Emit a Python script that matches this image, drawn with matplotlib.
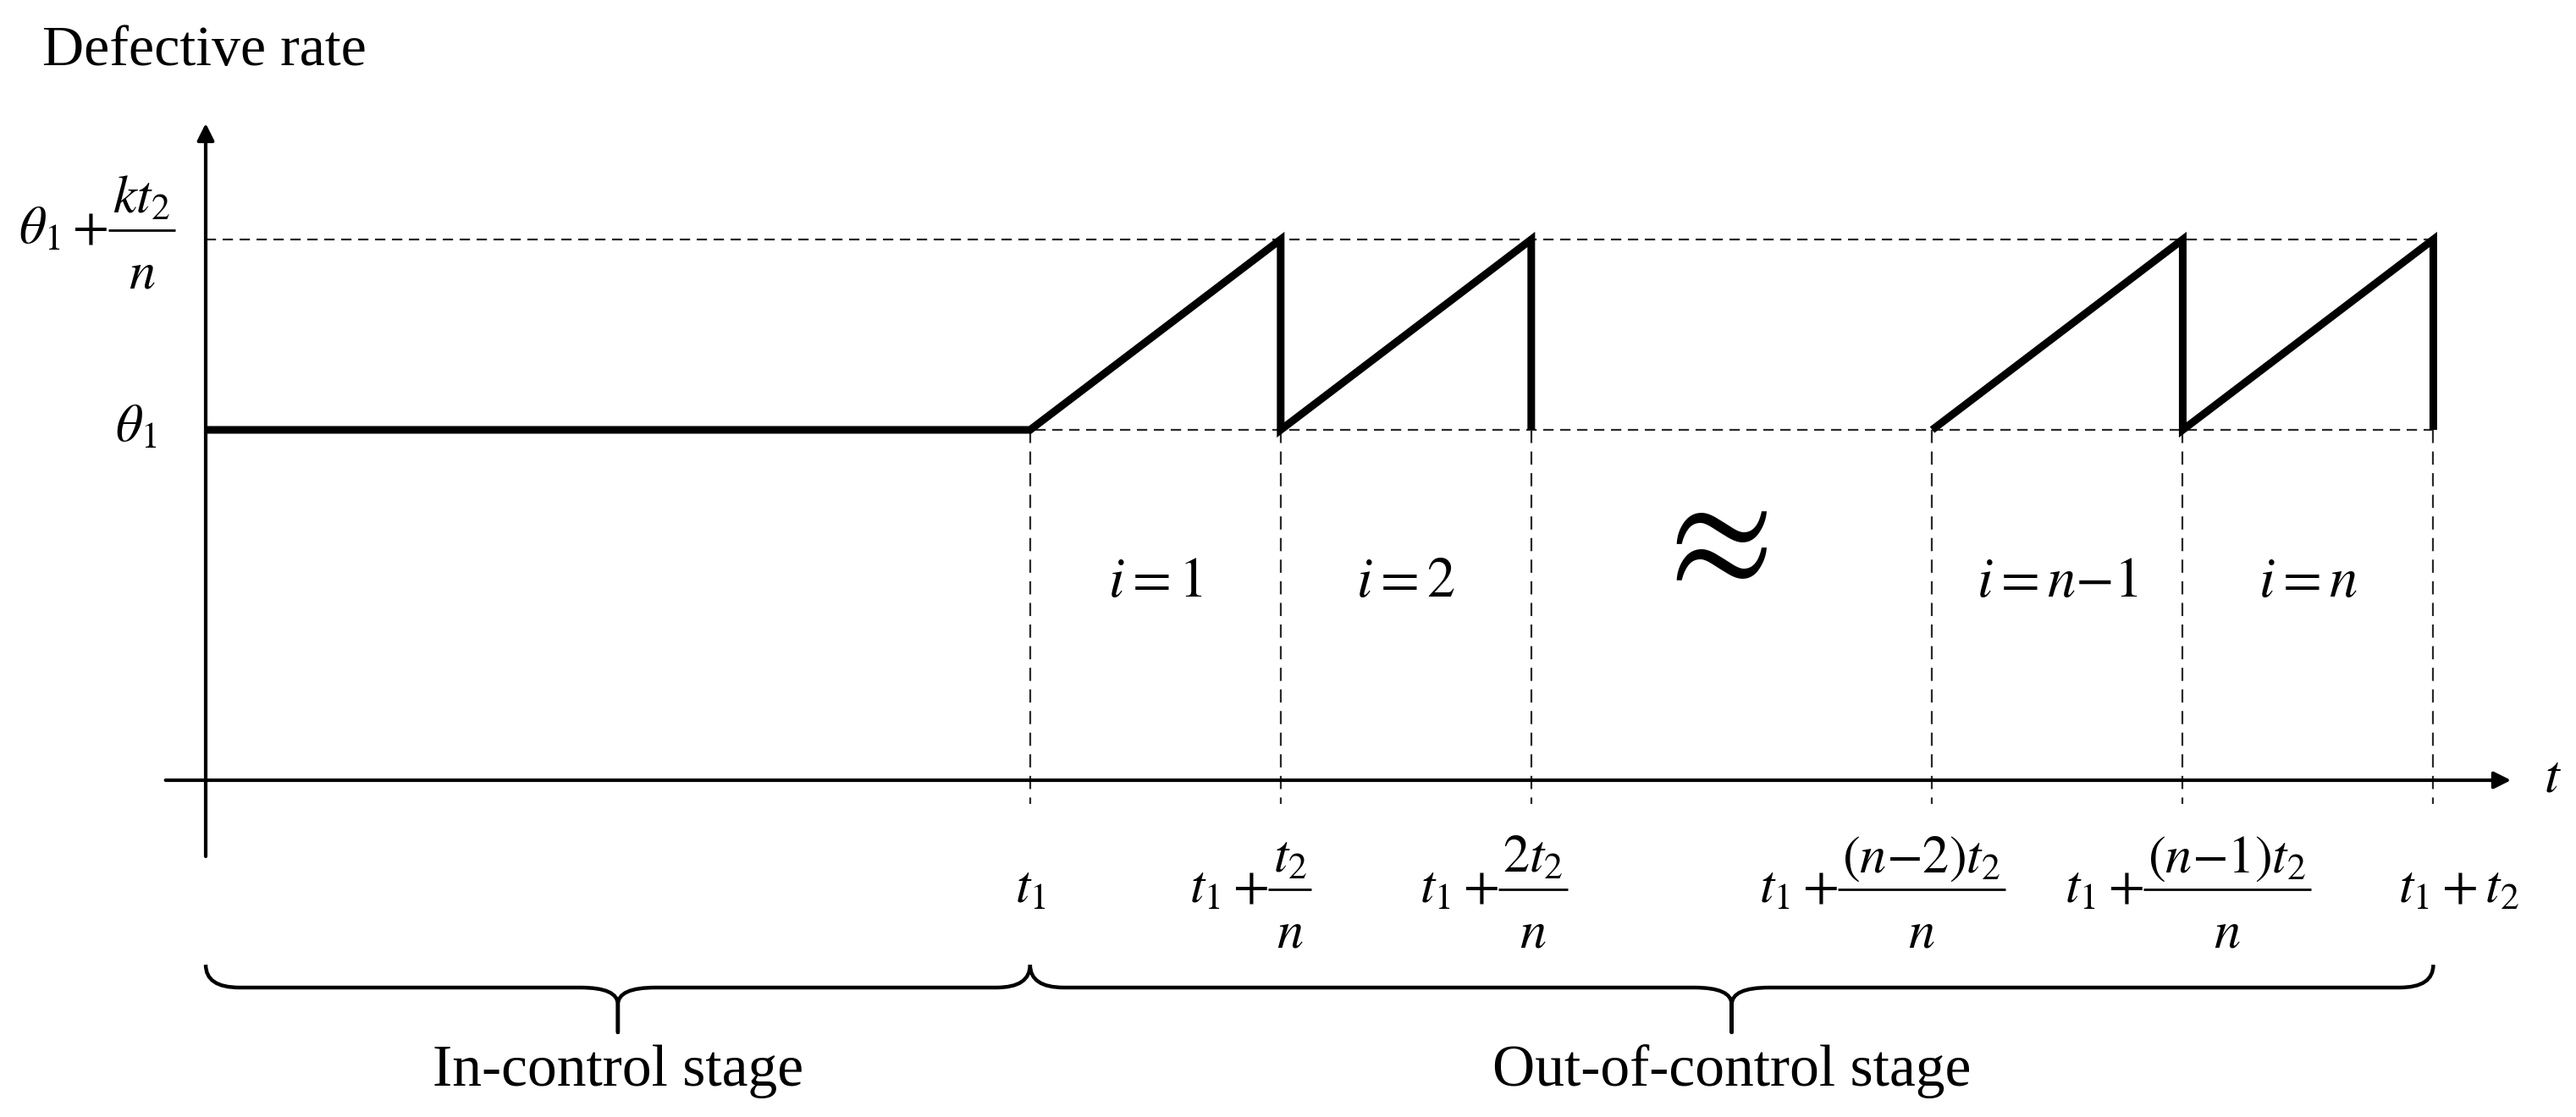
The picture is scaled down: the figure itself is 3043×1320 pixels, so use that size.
import matplotlib
matplotlib.use("Agg")
import matplotlib.pyplot as plt
from matplotlib.path import Path
from matplotlib.patches import PathPatch

plt.rcParams["font.family"] = ["Liberation Serif", "DejaVu Serif"]
plt.rcParams["mathtext.fontset"] = "stix"

# Schematic values: one inspection interval t2/n is one unit on the time axis
t1 = 3.29
theta1 = 1.84
rise = 1.0                              # k * t2 / n
cycle_starts = [0.0, 1.0, 3.6, 4.6]     # drawn intervals, offset from t1
tick_offsets = [0.0, 1.0, 2.0, 3.6, 4.6, 5.6]
# plain label, or (lead, numerator, denominator) for a fraction
tick_labels = [
    r"$t_1$",
    (r"$t_1+$", r"$t_2$", r"$n$"),
    (r"$t_1+$", r"$2t_2$", r"$n$"),
    (r"$t_1+$", r"$(n{-}2)t_2$", r"$n$"),
    (r"$t_1+$", r"$(n{-}1)t_2$", r"$n$"),
    r"$t_1+t_2$",
]
interval_labels = [r"$i=1$", r"$i=2$", r"$i=n{-}1$", r"$i=n$"]
level_labels = [r"$\theta_1$", (r"$\theta_1+$", r"$kt_2$", r"$n$")]
stage_labels = ["In-control stage", "Out-of-control stage"]

# Layout tweaks (label nudges in data units)
tick_nudge = [0.0, -0.12, -0.15, -0.20, 0.02, 0.10]
level_label_x = [-0.196, -0.122]
level_label_dy = [-0.062, -0.022]

# Figure: a bare axes over the full canvas
PX_X, PX_Y = 296, 225          # pixels per data unit
fig = plt.figure(figsize=(30.43, 13.2), dpi=100)
ax = fig.add_axes([0, 0, 1, 1])
ax.set_xlim(-243 / PX_X, (3043 - 243) / PX_X)
ax.set_ylim(-(1320 - 922) / PX_Y, 922 / PX_Y)
ax.axis("off")

renderer = fig.canvas.get_renderer()
to_data = ax.transData.inverted()


def data_width(artist):
    bb = artist.get_window_extent(renderer)
    return to_data.transform((bb.x1, 0))[0] - to_data.transform((bb.x0, 0))[0]


def put_label(x, y, label, size, ha="center"):
    """Plain mathtext label, or a display-style fraction built by hand."""
    if isinstance(label, str):
        return ax.text(x, y, label, ha=ha, va="baseline", fontsize=size)
    lead, num, den = label
    em_y = size / 72 * fig.dpi / PX_Y
    em_x = size / 72 * fig.dpi / PX_X
    lead_t = ax.text(0, y, lead, ha="left", va="baseline", fontsize=size)
    num_t = ax.text(0, y + 0.58 * em_y, num, ha="center", va="baseline", fontsize=size)
    den_t = ax.text(0, y - 0.84 * em_y, den, ha="center", va="baseline", fontsize=size)
    lead_w = data_width(lead_t)
    bar_w = max(data_width(num_t), data_width(den_t)) + 0.18 * em_x
    total = lead_w + bar_w
    x0 = x - total / 2 if ha == "center" else x - total
    lead_t.set_x(x0)
    xc = x0 + lead_w + bar_w / 2
    num_t.set_x(xc)
    den_t.set_x(xc)
    ax.plot([xc - bar_w / 2, xc + bar_w / 2], [y + 0.25 * em_y] * 2,
            color="black", lw=2.0, solid_capstyle="butt")


t_end = t1 + tick_offsets[-1]
ticks = [t1 + o for o in tick_offsets]
top = theta1 + rise

# Axes with arrows
arrow = dict(arrowstyle="-|>,head_length=0.6,head_width=0.3", lw=3,
             color="black", shrinkA=0, shrinkB=0, mutation_scale=20)
ax.annotate("", xy=(0, 3.45), xytext=(0, -0.4), arrowprops=arrow)
ax.annotate("", xy=(9.2, 0), xytext=(-0.16, 0), arrowprops=arrow)

# Dashed guide lines
dash_kw = dict(color="#2a2a2a", lw=1.6)
ax.plot([0, t_end], [top, top], dashes=(5.5, 3.5), **dash_kw)
ax.plot([0, t_end], [theta1, theta1], dashes=(5.5, 3.5), **dash_kw)
for x in ticks:
    ax.plot([x, x], [theta1, -0.125], dashes=(7, 4.5), **dash_kw)

# Defective-rate path (flat, then sawtooth)
xs, ys = [0.0, t1], [theta1, theta1]
segments = []
prev_end = 0.0
for s in cycle_starts:
    if s != prev_end:
        segments.append((xs, ys))
        xs, ys = [t1 + s], [theta1]
    xs += [t1 + s + 1, t1 + s + 1]
    ys += [top, theta1]
    prev_end = s + 1
segments.append((xs, ys))
for xs, ys in segments:
    ax.plot(xs, ys, color="black", lw=6.5, solid_joinstyle="miter",
            solid_capstyle="butt")

# Labels on the axes
for x, lab, dx in zip(ticks, tick_labels, tick_nudge):
    put_label(x + dx, -0.644, lab, 45)
for y, lab, x, dy in zip([theta1, top], level_labels, level_label_x, level_label_dy):
    put_label(x, y + dy, lab, 45, ha="right")
ax.text(-0.652, 3.756, "Defective rate", ha="left", va="baseline", fontsize=49)
ax.text(9.365, -0.058, r"$t$", ha="center", va="baseline", fontsize=46)

# Interval labels and the break mark
for s, lab in zip(cycle_starts, interval_labels):
    ax.text(t1 + s + 0.5, 0.965, lab, ha="center", va="baseline", fontsize=48)
ax.text(t1 + 2.7, 1.23, r"$\approx$", ha="center", va="center", fontsize=130)


def brace(x0, x1, y_top=-0.969, y_bar=-1.089, y_cusp=-1.178, y_tip=-1.324,
          r_end=0.135, r_mid=0.15):
    xm = (x0 + x1) / 2
    verts = [(x0, y_top), (x0, y_bar), (x0 + r_end, y_bar),
             (xm - r_mid, y_bar), (xm, y_bar), (xm, y_cusp),
             (xm, y_tip),
             (xm, y_cusp), (xm, y_bar), (xm + r_mid, y_bar),
             (x1 - r_end, y_bar), (x1, y_bar), (x1, y_top)]
    codes = [Path.MOVETO, Path.CURVE3, Path.CURVE3,
             Path.LINETO, Path.CURVE3, Path.CURVE3,
             Path.LINETO,
             Path.LINETO, Path.CURVE3, Path.CURVE3,
             Path.LINETO, Path.CURVE3, Path.CURVE3]
    ax.add_patch(PathPatch(Path(verts, codes), fill=False, lw=3.2,
                           edgecolor="black", joinstyle="round"))
    return xm


for (x0, x1), lab in zip([(0.0, t1), (t1, t_end)], stage_labels):
    xm = brace(x0, x1)
    ax.text(xm, -1.604, lab, ha="center", va="baseline", fontsize=50)

fig.savefig("out.png", dpi=100, facecolor="white")
